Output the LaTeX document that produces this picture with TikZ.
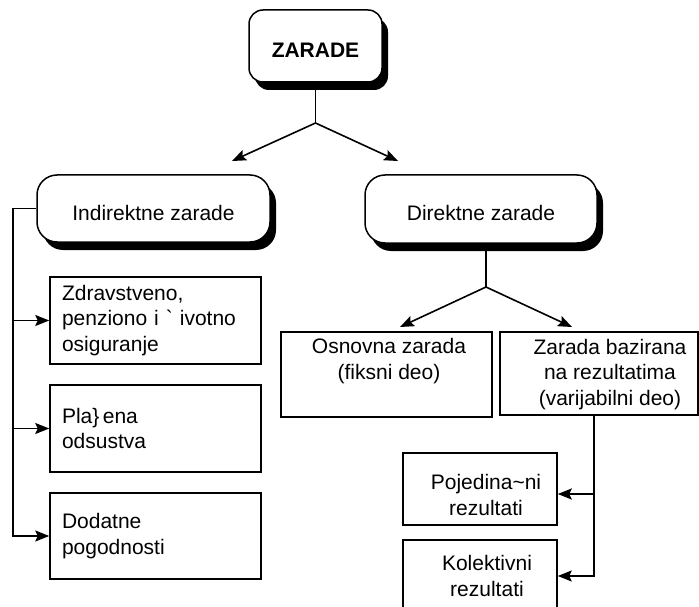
\documentclass[tikz,border=0pt]{standalone}
\usepackage{fontspec}
\setmainfont{Liberation Sans}
\usetikzlibrary{arrows.meta,shadows}
\begin{document}
\begin{tikzpicture}[x=1pt,y=-1pt,
  every node/.style={font=\fontsize{21}{25.5}\selectfont, line width=1.5pt},
  rbox/.style={draw, fill=white, rounded corners=20pt, text height=23pt, text depth=0pt,
    general shadow={fill=black, shadow xshift=6pt, shadow yshift=-8pt}},
  lbox/.style={draw, fill=white, text width=187pt, align=left, inner xsep=12pt, minimum height=87pt},
  cbox/.style={draw, fill=white, align=center, inner sep=0pt},
  arr/.style={-{Stealth[length=14pt,width=11pt,inset=2.5pt]}},
  conn/.style={line width=1.6pt}]
\useasboundingbox (0,0) rectangle (699,607);
\clip (0,0) rectangle (699,607);
% boxes
\node[rbox, font=\bfseries\fontsize{21}{25}\selectfont, minimum width=133pt, minimum height=72pt, rounded corners=14pt] (zarade) at (315.5,46) {ZARADE};
\node[rbox, minimum width=233pt, minimum height=67pt] (indir) at (153.5,208.5) {Indirektne zarade};
\node[rbox, minimum width=232pt, minimum height=68pt] (direk) at (481,209) {Direktne zarade};
\node[lbox] (zdrav) at (155.5,320.5) {Zdravstveno,\\penziono i \textasciigrave\ ivotno\\osiguranje};
\node[lbox] (plac) at (155.5,428.5) {Pla\}\,ena\\odsustva};
\node[lbox, minimum height=86pt] (dod) at (155.5,536) {Dodatne\\pogodnosti};
\node[cbox, minimum width=211pt, minimum height=85pt] (osn) at (386.5,374.5) {};
\node[cbox, minimum width=198pt, minimum height=83pt,
  label={[xshift=11pt, yshift=-1pt, align=center]center:{Zarada bazirana\\na rezultatima\\(varijabilni deo)}}] (zb) at (599,373.5) {};
\node[cbox, minimum width=154pt, minimum height=72pt,
  label={[xshift=6pt, yshift=-6pt, align=center]center:{Pojedina\textasciitilde ni\\rezultati}}] (poj) at (480,489) {};
\node[cbox, minimum width=154pt, minimum height=72pt,
  label={[xshift=7pt, yshift=0pt, align=center]center:{Kolektivni\\rezultati}}] (kol) at (480,576) {};
\node[align=center, anchor=north] (osntext) at ([xshift=2.5pt, yshift=-3pt]osn.north) {Osnovna zarada\\(fiksni deo)};
% top connectors
\coordinate (j1) at (315.5,123);
\coordinate (t1) at (232,161);
\coordinate (t2) at (398,161);
\draw[conn] (zarade.south) -- (j1);
\draw[conn,arr] (j1) -- (t1);
\draw[conn,arr] (j1) -- (t2);
% direct connectors
\coordinate (j2) at (486,287);
\coordinate (t3) at (400,327);
\coordinate (t4) at (572,327);
\draw[conn] ([xshift=5pt]direk.south) -- (j2);
\draw[conn,arr] (j2) -- (t3);
\draw[conn,arr] (j2) -- (t4);
% left spine
\coordinate (lsp) at (13,0);
\draw[conn,arr] (indir.west) -| (lsp |- dod.west) -- (dod.west);
\draw[conn,arr] (lsp |- zdrav.west) -- (zdrav.west);
\draw[conn,arr] (lsp |- plac.west) -- (plac.west);
% right spine
\coordinate (rsp) at ([xshift=-5pt]zb.south);
\coordinate (pe) at ([yshift=-5pt]poj.east);
\draw[conn,arr] (rsp) |- (kol.east);
\draw[conn,arr,line width=2.2pt] (rsp |- pe) -- (pe);
\end{tikzpicture}
\end{document}
